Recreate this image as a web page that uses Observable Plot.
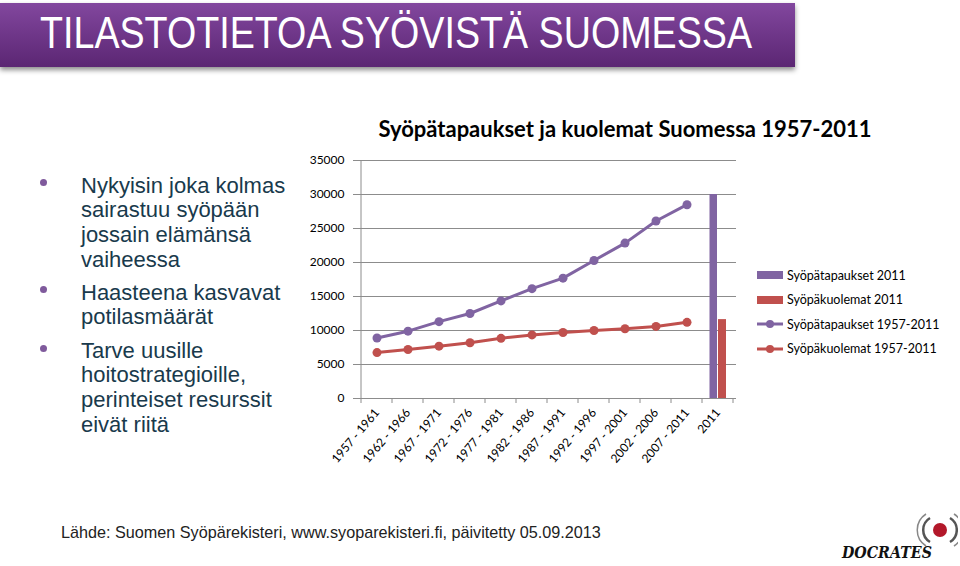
<!DOCTYPE html>
<html><head><meta charset="utf-8">
<script src="https://cdn.jsdelivr.net/npm/d3@7"></script>
<script src="https://cdn.jsdelivr.net/npm/@observablehq/plot@0.6"></script>
<style>
body{margin:0;width:960px;height:566px;position:relative;overflow:hidden;background:#fff;font-family:"Liberation Sans",Arial,sans-serif;}
#banner{position:absolute;left:0;top:3px;width:795px;height:64px;background:linear-gradient(#82479e,#5b2673);box-shadow:0 3px 5px rgba(0,0,0,.45);}
#btitle{position:absolute;left:40px;top:5px;font-size:44px;line-height:50px;color:#fff;white-space:nowrap;transform-origin:0 0;}
.para{position:absolute;left:81px;font-size:22px;line-height:24.7px;color:#193a4c;white-space:nowrap;}
.bullet{position:absolute;width:7px;height:7px;border-radius:50%;background:#7f5a9c;}
#ctitle{position:absolute;left:325px;width:600px;top:115px;text-align:center;font-family:Lato,sans-serif;font-weight:bold;font-size:22px;line-height:28px;color:#000;}
#chart{position:absolute;left:300px;top:150px;}
#legend{position:absolute;left:757px;top:263px;font-family:Lato,sans-serif;font-size:12.5px;color:#000;}
.li{position:relative;height:24.5px;display:flex;align-items:center;}
.li svg{margin-right:4px;}
#caption{position:absolute;left:61px;top:523px;font-size:16.2px;color:#222;white-space:nowrap;}
#logo{position:absolute;left:830px;top:512px;}
</style></head>
<body>
<div id="banner"><div id="btitle">TILASTOTIETOA SYÖVISTÄ SUOMESSA</div></div>

<div class="bullet" style="left:40px;top:179px"></div>
<div class="para" style="top:173.6px">Nykyisin joka kolmas<br>sairastuu syöpään<br>jossain elämänsä<br>vaiheessa</div>
<div class="bullet" style="left:40px;top:286px"></div>
<div class="para" style="top:280.6px">Haasteena kasvavat<br>potilasmäärät</div>
<div class="bullet" style="left:40px;top:345px"></div>
<div class="para" style="top:338.6px">Tarve uusille<br>hoitostrategioille,<br>perinteiset resurssit<br>eivät riitä</div>

<div id="ctitle">Syöpätapaukset ja kuolemat Suomessa 1957-2011</div>
<div id="chart"></div>
<div id="legend"></div>

<div id="caption">Lähde: Suomen Syöpärekisteri, www.syoparekisteri.fi, päivitetty 05.09.2013</div>
<div id="logo"><svg width="128" height="52">
<path d="M100 6 A14 14 0 0 0 100 30" fill="none" stroke="#555" stroke-width="2.5"/>
<path d="M120 6 A14 14 0 0 1 120 30" fill="none" stroke="#555" stroke-width="2.5"/>
<path d="M96 2 A19 19 0 0 0 96 34" fill="none" stroke="#888" stroke-width="1.5"/>
<path d="M124 2 A19 19 0 0 1 124 34" fill="none" stroke="#888" stroke-width="1.5"/>
<circle cx="110" cy="18" r="7" fill="#b3182a"/>
<text x="12" y="46" font-family="'DejaVu Serif',serif" font-style="italic" font-weight="bold" font-size="17" fill="#111" textLength="90" lengthAdjust="spacingAndGlyphs">DOCRATES</text>
</svg></div>

<script>
const categories = ["1957 - 1961","1962 - 1966","1967 - 1971","1972 - 1976","1977 - 1981","1982 - 1986","1987 - 1991","1992 - 1996","1997 - 2001","2002 - 2006","2007 - 2011","2011"];
const periods = categories.slice(0, 11);
const incidence = [8900, 9900, 11300, 12500, 14350, 16150, 17700, 20300, 22850, 26100, 28500];
const mortality = [6750, 7200, 7700, 8200, 8850, 9350, 9700, 10000, 10250, 10600, 11200];
const barNames = ["Syöpätapaukset 2011", "Syöpäkuolemat 2011"];
const barValues = [30000, 11600];
const lineNames = ["Syöpätapaukset 1957-2011", "Syöpäkuolemat 1957-2011"];
const yTicks = [0, 5000, 10000, 15000, 20000, 25000, 30000, 35000];
const purple = "#8064a2", red = "#c0504d", grey = "#8c8c8c";

// fit banner title width
const bt = document.getElementById("btitle");
bt.style.transform = `scaleX(${712 / bt.getBoundingClientRect().width})`;

const incData = periods.map((p, i) => ({cat: p, value: incidence[i]}));
const morData = periods.map((p, i) => ({cat: p, value: mortality[i]}));
const barData = barNames.map((n, i) => ({cat: categories[11], name: n, value: barValues[i]}));

const frameMark = (index, scales) => {
  const x = scales.x, y = scales.y;
  const bw = x.bandwidth();
  const g = d3.create("svg:g").attr("stroke", grey).attr("stroke-width", 1);
  const x0 = x(categories[0]);
  g.append("line").attr("x1", x0).attr("x2", x0).attr("y1", y(0)).attr("y2", y(35000));
  const bounds = categories.map(c => x(c)).concat([x(categories[categories.length - 1]) + bw]);
  for (const b of bounds) g.append("line").attr("x1", b).attr("x2", b).attr("y1", y(0)).attr("y2", y(0) + 5);
  return g.node();
};

const chart = Plot.plot({
  width: 460, height: 330,
  marginLeft: 57, marginRight: 24, marginTop: 10, marginBottom: 82,
  x: {type: "band", domain: categories, padding: 0, label: null},
  y: {domain: [0, 35000], label: null},
  style: {fontFamily: "Lato, sans-serif", fontSize: "12px", color: "#000", background: "transparent"},
  marks: [
    Plot.ruleY(yTicks, {stroke: grey, strokeWidth: 1}),
    Plot.axisY({ticks: yTicks, tickSize: 4, tickPadding: 9, stroke: grey, tickFormat: d => String(d), fontSize: 12}),
    Plot.axisX({tickSize: 0, tickPadding: 12, tickRotate: -50, fontSize: 12}),
    frameMark,
    Plot.barY(barData.filter(d => d.name === barNames[0]), {x: "cat", y: "value", fill: purple, insetLeft: 7.5, insetRight: 16}),
    Plot.barY(barData.filter(d => d.name === barNames[1]), {x: "cat", y: "value", fill: red, insetLeft: 16, insetRight: 7}),
    Plot.line(incData, {x: "cat", y: "value", stroke: purple, strokeWidth: 3}),
    Plot.dot(incData, {x: "cat", y: "value", fill: purple, r: 4.5}),
    Plot.line(morData, {x: "cat", y: "value", stroke: red, strokeWidth: 3}),
    Plot.dot(morData, {x: "cat", y: "value", fill: red, r: 4.5})
  ]
});
document.getElementById("chart").appendChild(chart);

const legend = document.getElementById("legend");
const items = [
  {name: barNames[0], color: purple, type: "bar"},
  {name: barNames[1], color: red, type: "bar"},
  {name: lineNames[0], color: purple, type: "line"},
  {name: lineNames[1], color: red, type: "line"}
];
for (const it of items) {
  const div = document.createElement("div");
  div.className = "li";
  const sw = it.type === "bar"
    ? `<svg width="26" height="10"><rect x="0" y="1" width="26" height="8" fill="${it.color}"/></svg>`
    : `<svg width="26" height="10"><line x1="0" x2="26" y1="5" y2="5" stroke="${it.color}" stroke-width="3"/><circle cx="13" cy="5" r="4" fill="${it.color}"/></svg>`;
  div.innerHTML = sw + `<span>${it.name}</span>`;
  legend.appendChild(div);
}
</script>
</body></html>
